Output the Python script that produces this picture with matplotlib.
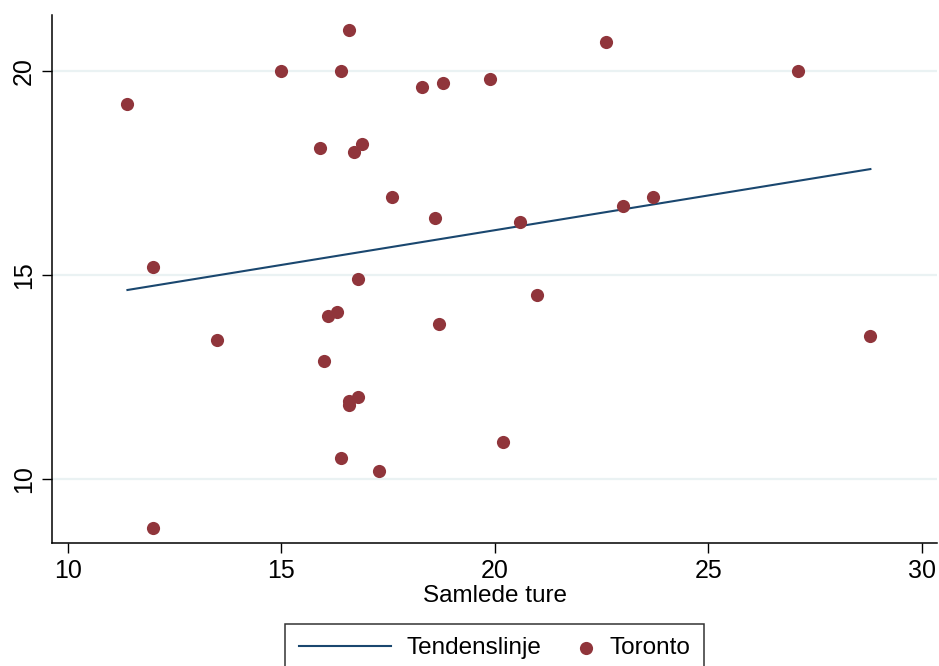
import numpy
import matplotlib
matplotlib.use("Agg")
import matplotlib.pyplot as plt
from matplotlib.legend_handler import HandlerPathCollection

# data
samlede_ture = [11.4, 12.0, 12.0, 13.5, 15.0, 15.9, 16.0, 16.1, 16.3, 16.4, 16.4,
                16.6, 16.6, 16.6, 16.7, 16.8, 16.8, 16.9, 17.3, 17.6, 18.3, 18.6,
                18.7, 18.8, 19.9, 20.2, 20.6, 21.0, 22.6, 23.0, 23.7, 27.1, 28.8]
toronto = [19.2, 15.2, 8.8, 13.4, 20.0, 18.1, 12.9, 14.0, 14.1, 20.0, 10.5,
           21.0, 11.9, 11.8, 18.0, 14.9, 12.0, 18.2, 10.2, 16.9, 19.6, 16.4,
           13.8, 19.7, 19.8, 10.9, 16.3, 14.5, 20.7, 16.7, 16.9, 20.0, 13.5]
x_ticks = [10, 15, 20, 25, 30]
y_ticks = [10, 15, 20]

line_color = '#1A476F'
marker_color = '#90353B'
grid_color = '#EAF2F3'
font_size = 17.5


class MarkerAtRight(HandlerPathCollection):
    # Stata style key: the dot sits next to its label
    def get_xdata(self, legend, xdescent, ydescent, width, height, fontsize):
        x = [-xdescent + width - 0.3 * fontsize]
        return x, x


plt.rcParams['font.family'] = ['Liberation Sans', 'DejaVu Sans']
plt.rcParams['font.size'] = font_size

figure = plt.figure(figsize=(9.39, 6.66), dpi=100)
ax = figure.add_axes([52.3 / 939, 1 - 543.3 / 666, (937 - 52.3) / 939, (543.3 - 15) / 666])

x = numpy.array(samlede_ture)
y = numpy.array(toronto)
slope, intercept = numpy.polyfit(x, y, 1)
fit_x = numpy.array([x.min(), x.max()])

for tick in y_ticks:
    ax.axhline(tick, color=grid_color, lw=1.6, zorder=0)

trend, = ax.plot(fit_x, intercept + slope * fit_x, color=line_color, lw=1.5, zorder=2)
dots = ax.scatter(x, y, s=90, color=marker_color, linewidths=0, zorder=3)

ax.set_xlim(9.64, 30.36)
ax.set_ylim(8.42, 21.37)
ax.set_xticks(x_ticks)
ax.set_yticks(y_ticks)
ax.set_yticklabels([str(t) for t in y_ticks], rotation=90, va='center')
ax.tick_params(axis='both', length=7, width=1.0, color='black', labelsize=18)
ax.tick_params(axis='x', pad=4)
ax.tick_params(axis='y', pad=5)
ax.spines['top'].set_visible(False)
ax.spines['right'].set_visible(False)
ax.spines['left'].set_linewidth(1.1)
ax.spines['bottom'].set_linewidth(1.1)
ax.set_xlabel('Samlede ture', labelpad=2)

legend = figure.legend(
    [trend, dots], ['Tendenslinje', 'Toronto'],
    loc='upper center', bbox_to_anchor=(494.5 / 939, 1 - 624 / 666),
    ncol=2, frameon=True, fancybox=False, edgecolor='black',
    handlelength=3.78, handletextpad=0.66, columnspacing=-1.65,
    borderpad=0.55, borderaxespad=0, scatterpoints=1,
    handler_map={dots: MarkerAtRight()},
)
legend.get_frame().set_linewidth(1.1)

figure.savefig('out.png', dpi=100)
